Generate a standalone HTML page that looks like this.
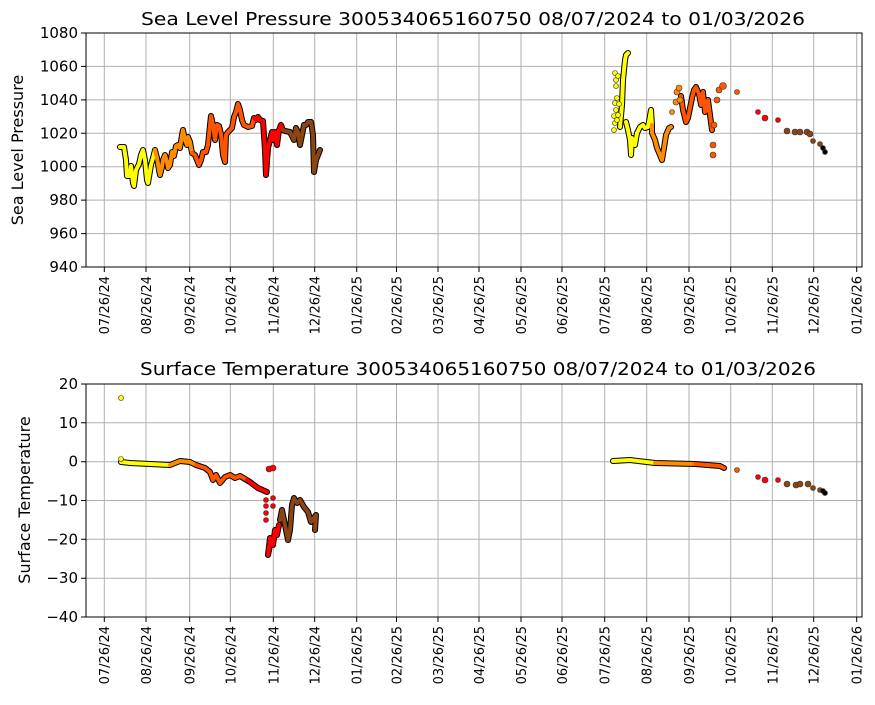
<!DOCTYPE html>
<html><head><meta charset="utf-8"><style>
body{margin:0;background:#fff}
svg text{font-family:"DejaVu Sans","Liberation Sans",sans-serif;fill:#000}
</style></head><body>
<svg width="875" height="700" xmlns="http://www.w3.org/2000/svg">
<text x="473" y="25" font-size="18" text-anchor="middle" textLength="664" lengthAdjust="spacingAndGlyphs">Sea Level Pressure 300534065160750  08/07/2024 to 01/03/2026</text>
<text x="478" y="375" font-size="18" text-anchor="middle" textLength="676" lengthAdjust="spacingAndGlyphs">Surface Temperature 300534065160750  08/07/2024 to 01/03/2026</text>
<g stroke="#b0b0b0" stroke-width="1">
<path d="M104.3 33V267M146 33V267M189.7 33V267M230.3 33V267M273.3 33V267M314.7 33V267M356.7 33V267M396.5 33V267M438 33V267M479 33V267M521 33V267M562 33V267M604.7 33V267M646.7 33V267M689 33V267M730.7 33V267M772.3 33V267M813.7 33V267M856.7 33V267"/>
<path d="M86 66.4H862M86 99.9H862M86 133.3H862M86 166.7H862M86 200.1H862M86 233.6H862"/>
<path d="M104.3 384V617M146 384V617M189.7 384V617M230.3 384V617M273.3 384V617M314.7 384V617M356.7 384V617M396.5 384V617M438 384V617M479 384V617M521 384V617M562 384V617M604.7 384V617M646.7 384V617M689 384V617M730.7 384V617M772.3 384V617M813.7 384V617M856.7 384V617"/>
<path d="M86 422.8H862M86 461.7H862M86 500.5H862M86 539.3H862M86 578.2H862"/>
</g>
<g fill="none" stroke-linejoin="round" stroke-linecap="round">
<g stroke="#000" stroke-width="6">
<polyline points="120,147 124,147 126,160 127,176 130,176 131,166 133,183 134,186 136,170 139,164 141,155 143,150 145,160 147,180 148,183 151,165 153,158 155,150 157,158 159,170 160,175 162,167 163,160 165,155 167,162 168,168 170,165 172,152 174,156 176,146 178,145 180,148 182,135 183,130 185,140 187,145 188,137 190,142 192,153 195,155 197,160 199,165 201,160 203,152 206,152 208,145 210,125 211,116 213,125 215,140 217,125 219,126 221,134 223,155 225,162 226,135 228,132 230,130 232,128 234,117 236,112 238,104 240,110 242,120 244,125 248,127 252,126 254,118 256,120 258,117 260,120 263,121 265,150 266,175 268,148 270,140 272,132 273,140 275,132 277,145 279,130 281,125 283,130 285,131 290,132 294,140 296,128 298,132 300,145 302,135 304,125 306,125 308,122 311,122 313,135 314,172 316,160 318,155 320,150"/>
<polyline points="620,127 622,105 623,80 624,70 625,60 626,55 628,53"/>
<polyline points="626,122 628,130 630,140 631,155 632,138 635,145 637,133 640,127 643,125 645,128 648,127 651,110 652,125 652,133 655,140 657,148 660,155 662,160 664,148 666,135 669,128 671,127"/>
<polyline points="681,96 683,110 686,122 688,118 690,108 692,98 694,90 696,87 699,94 701,105 703,92 705,112 707,110 708,100 710,115 712,130"/>
<polyline points="121,462 130,463 150,464 170,465 180,461 190,462 196,465 205,468 210,472 213,480 216,475 220,483 225,477 230,475 235,478 240,476 250,482 258,488 267,492"/>
<polyline points="270,538 268,555 271,540 273,545 275,530 277,535 279,525"/>
<polyline points="280,520 282,510 285,525 288,540 290,530 292,505 294,498 297,503 300,500 304,507 308,512 311,522 316,515 315,530"/>
<polyline points="613,461 630,460 655,463 695,464 720,466 724,468"/>
</g>
<g stroke-width="4">
<polyline stroke="#ffff00" points="120,147 124,147 126,160 127,176 130,176 131,166 133,183 134,186 136,170 139,164 141,155 143,150 145,160 147,180 148,183 151,165 153,158 155,150"/>
<polyline stroke="#ff8c00" points="155,150 157,158 159,170 160,175 162,167 163,160 165,155 167,162 168,168 170,165 172,152 174,156 176,146 178,145 180,148 182,135 183,130 185,140 187,145 188,137 190,142 192,153"/>
<polyline stroke="#ff5500" points="192,153 195,155 197,160 199,165 201,160 203,152 206,152 208,145 210,125 211,116 213,125 215,140 217,125 219,126 221,134 223,155 225,162 226,135 228,132 230,130 232,128 234,117 236,112 238,104 240,110 242,120 244,125 248,127 252,126 254,118"/>
<polyline stroke="#ff0000" points="254,118 256,120 258,117 260,120 263,121 265,150 266,175 268,148 270,140 272,132 273,140 275,132 277,145 279,130 281,125 283,130"/>
<polyline stroke="#8b4513" points="283,130 285,131 290,132 294,140 296,128 298,132 300,145 302,135 304,125 306,125 308,122 311,122 313,135 314,172 316,160 318,155 320,150"/>
<polyline stroke="#ffff00" points="620,127 622,105 623,80 624,70 625,60 626,55 628,53"/>
<polyline stroke="#ffff00" points="626,122 628,130 630,140 631,155 632,138 635,145 637,133 640,127 643,125 645,128 648,127 651,110 652,125"/>
<polyline stroke="#ff8c00" points="652,125 652,133 655,140 657,148 660,155 662,160 664,148 666,135 669,128 671,127"/>
<polyline stroke="#ff5500" points="681,96 683,110 686,122 688,118 690,108 692,98 694,90 696,87 699,94 701,105 703,92 705,112 707,110 708,100 710,115 712,130"/>
<polyline stroke="#ffff00" points="121,462 130,463 150,464 170,465"/>
<polyline stroke="#ff8c00" points="170,465 180,461 190,462 196,465"/>
<polyline stroke="#ff5500" points="196,465 205,468 210,472 213,480 216,475 220,483 225,477 230,475 235,478 240,476 247,480"/>
<polyline stroke="#ff0000" points="247,480 250,482 258,488 267,492"/>
<polyline stroke="#ff0000" points="270,538 268,555 271,540 273,545 275,530 277,535 279,525"/>
<polyline stroke="#8b4513" points="280,520 282,510 285,525 288,540 290,530 292,505 294,498 297,503 300,500 304,507 308,512 311,522 316,515 315,530"/>
<polyline stroke="#ffff00" points="613,461 630,460 655,463"/>
<polyline stroke="#ff8c00" points="655,463 695,464"/>
<polyline stroke="#ff5500" points="695,464 720,466 724,468"/>
</g>
</g>
<g stroke="#333" stroke-width="0.6">
<g fill="#ffff00">
<circle cx="614" cy="130" r="2.5"/><circle cx="615" cy="123" r="2.5"/><circle cx="614" cy="116" r="2.5"/><circle cx="616" cy="110" r="2.5"/><circle cx="615" cy="103" r="2.5"/><circle cx="617" cy="98" r="2.5"/><circle cx="619" cy="104" r="2.5"/><circle cx="618" cy="115" r="2.5"/><circle cx="617" cy="120" r="2.5"/><circle cx="615" cy="73" r="2.5"/><circle cx="616" cy="80" r="2.5"/><circle cx="616" cy="86" r="2.5"/><circle cx="618" cy="76" r="2.5"/><circle cx="121" cy="398" r="2.5"/><circle cx="121" cy="459" r="2.5"/>
</g>
<g fill="#ff8c00"><circle cx="672" cy="112" r="2.5"/><circle cx="676" cy="102" r="3"/><circle cx="677" cy="92" r="3"/><circle cx="679" cy="88" r="3"/><circle cx="680" cy="100" r="3"/></g>
<g fill="#ff5500"><circle cx="713" cy="145" r="3"/><circle cx="713" cy="155" r="3"/><circle cx="714" cy="125" r="3"/><circle cx="717" cy="100" r="3"/><circle cx="719" cy="90" r="3"/><circle cx="723" cy="86" r="3.5"/><circle cx="737" cy="92" r="2.5"/><circle cx="737" cy="470" r="2.5"/></g>
<g fill="#ff0000"><circle cx="758" cy="112" r="2.5"/><circle cx="765" cy="118" r="3"/><circle cx="778" cy="120" r="2.5"/><circle cx="758" cy="477" r="2.5"/><circle cx="765" cy="480" r="3"/><circle cx="778" cy="480" r="2.5"/><circle cx="266" cy="500" r="2.5"/><circle cx="266" cy="506" r="2.5"/><circle cx="266" cy="513" r="2.5"/><circle cx="266" cy="520" r="2.5"/><circle cx="269" cy="469" r="3"/><circle cx="273" cy="468" r="3"/><circle cx="273" cy="498" r="2.5"/><circle cx="273" cy="506" r="2.5"/></g>
<g fill="#8b4513"><circle cx="787" cy="131" r="3"/><circle cx="795" cy="132" r="3"/><circle cx="800" cy="132" r="3"/><circle cx="807" cy="132" r="3"/><circle cx="810" cy="134" r="3"/><circle cx="813" cy="141" r="2.5"/><circle cx="820" cy="144" r="2.5"/><circle cx="787" cy="484" r="3"/><circle cx="796" cy="485" r="3"/><circle cx="800" cy="484" r="3"/><circle cx="808" cy="484" r="3"/><circle cx="813" cy="488" r="2.5"/><circle cx="820" cy="490" r="2.5"/></g>
<g fill="#000"><circle cx="823" cy="148" r="2.5"/><circle cx="825" cy="152" r="2.5"/><circle cx="823" cy="491" r="2.5"/><circle cx="825" cy="493" r="2.5"/></g>
</g>
<rect x="86" y="33" width="776" height="234" fill="none" stroke="#000" stroke-width="1"/>
<rect x="86" y="384" width="776" height="233" fill="none" stroke="#000" stroke-width="1"/>
<g stroke="#000" stroke-width="1">
<path d="M81 33H86M81 66.4H86M81 99.9H86M81 133.3H86M81 166.7H86M81 200.1H86M81 233.6H86M81 267H86"/>
<path d="M81 384H86M81 422.8H86M81 461.7H86M81 500.5H86M81 539.3H86M81 578.2H86M81 617H86"/>
<path d="M104.3 267V272M146 267V272M189.7 267V272M230.3 267V272M273.3 267V272M314.7 267V272M356.7 267V272M396.5 267V272M438 267V272M479 267V272M521 267V272M562 267V272M604.7 267V272M646.7 267V272M689 267V272M730.7 267V272M772.3 267V272M813.7 267V272M856.7 267V272"/>
<path d="M104.3 617V622M146 617V622M189.7 617V622M230.3 617V622M273.3 617V622M314.7 617V622M356.7 617V622M396.5 617V622M438 617V622M479 617V622M521 617V622M562 617V622M604.7 617V622M646.7 617V622M689 617V622M730.7 617V622M772.3 617V622M813.7 617V622M856.7 617V622"/>
</g>
<g font-size="15" text-anchor="end">
<text x="78" y="38">1080</text><text x="78" y="71.4">1060</text><text x="78" y="104.9">1040</text><text x="78" y="138.3">1020</text><text x="78" y="171.7">1000</text><text x="78" y="205.1">980</text><text x="78" y="238.6">960</text><text x="78" y="272">940</text>
<text x="78" y="389">20</text><text x="78" y="427.8">10</text><text x="78" y="466.7">0</text><text x="78" y="505.5">−10</text><text x="78" y="544.3">−20</text><text x="78" y="583.2">−30</text><text x="78" y="622">−40</text>
</g>
<text transform="translate(23,150) rotate(-90)" font-size="16" text-anchor="middle">Sea Level Pressure</text>
<text transform="translate(30,500) rotate(-90)" font-size="16" text-anchor="middle">Surface Temperature</text>
<g font-size="13" text-anchor="end">
<g transform="translate(0,276)">
<text transform="translate(109,0) rotate(-90)">07/26/24</text><text transform="translate(151,0) rotate(-90)">08/26/24</text><text transform="translate(194.7,0) rotate(-90)">09/26/24</text><text transform="translate(235.3,0) rotate(-90)">10/26/24</text><text transform="translate(278.3,0) rotate(-90)">11/26/24</text><text transform="translate(319.7,0) rotate(-90)">12/26/24</text><text transform="translate(361.7,0) rotate(-90)">01/26/25</text><text transform="translate(401.5,0) rotate(-90)">02/26/25</text><text transform="translate(443,0) rotate(-90)">03/26/25</text><text transform="translate(484,0) rotate(-90)">04/26/25</text><text transform="translate(526,0) rotate(-90)">05/26/25</text><text transform="translate(567,0) rotate(-90)">06/26/25</text><text transform="translate(609.7,0) rotate(-90)">07/26/25</text><text transform="translate(651.7,0) rotate(-90)">08/26/25</text><text transform="translate(694,0) rotate(-90)">09/26/25</text><text transform="translate(735.7,0) rotate(-90)">10/26/25</text><text transform="translate(777.3,0) rotate(-90)">11/26/25</text><text transform="translate(818.7,0) rotate(-90)">12/26/25</text><text transform="translate(861.7,0) rotate(-90)">01/26/26</text>
</g>
<g transform="translate(0,626)">
<text transform="translate(109,0) rotate(-90)">07/26/24</text><text transform="translate(151,0) rotate(-90)">08/26/24</text><text transform="translate(194.7,0) rotate(-90)">09/26/24</text><text transform="translate(235.3,0) rotate(-90)">10/26/24</text><text transform="translate(278.3,0) rotate(-90)">11/26/24</text><text transform="translate(319.7,0) rotate(-90)">12/26/24</text><text transform="translate(361.7,0) rotate(-90)">01/26/25</text><text transform="translate(401.5,0) rotate(-90)">02/26/25</text><text transform="translate(443,0) rotate(-90)">03/26/25</text><text transform="translate(484,0) rotate(-90)">04/26/25</text><text transform="translate(526,0) rotate(-90)">05/26/25</text><text transform="translate(567,0) rotate(-90)">06/26/25</text><text transform="translate(609.7,0) rotate(-90)">07/26/25</text><text transform="translate(651.7,0) rotate(-90)">08/26/25</text><text transform="translate(694,0) rotate(-90)">09/26/25</text><text transform="translate(735.7,0) rotate(-90)">10/26/25</text><text transform="translate(777.3,0) rotate(-90)">11/26/25</text><text transform="translate(818.7,0) rotate(-90)">12/26/25</text><text transform="translate(861.7,0) rotate(-90)">01/26/26</text>
</g>
</g>
</svg>
</body></html>
